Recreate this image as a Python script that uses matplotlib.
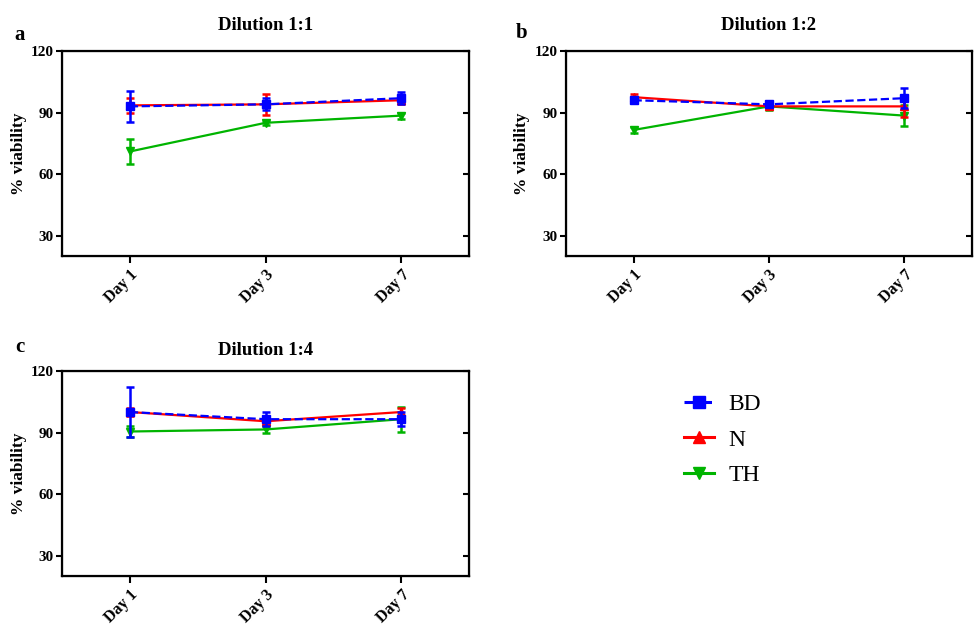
import matplotlib
matplotlib.use("Agg")
import matplotlib.pyplot as plt
from matplotlib.lines import Line2D

plt.rcParams['font.family'] = ['Liberation Serif', 'DejaVu Serif']

days = ["Day 1", "Day 3", "Day 7"]
series = ["BD", "N", "TH"]

# mean and error per dilution panel
bd_11 = [93, 94, 97]
bd_11_err = [7.5, 3, 3]
n_11 = [93.5, 94, 96]
n_11_err = [3.5, 5, 2]
th_11 = [71, 85, 88.5]
th_11_err = [6, 1, 1.5]

bd_12 = [96, 94, 97]
bd_12_err = [1.5, 1.5, 5]
n_12 = [97.5, 93, 93]
n_12_err = [1.5, 1.5, 5]
th_12 = [81.5, 93, 88.5]
th_12_err = [1.5, 2, 5]

bd_14 = [100, 96.5, 96.5]
bd_14_err = [12, 3.5, 3.5]
n_14 = [100, 95.5, 100]
n_14_err = [2, 2, 2]
th_14 = [90.5, 91.5, 96.5]
th_14_err = [2.5, 1.5, 6]

titles = ["Dilution 1:1", "Dilution 1:2", "Dilution 1:4"]
letters = ["a", "b", "c"]

panels = [
    [(bd_11, bd_11_err), (n_11, n_11_err), (th_11, th_11_err)],
    [(bd_12, bd_12_err), (n_12, n_12_err), (th_12, th_12_err)],
    [(bd_14, bd_14_err), (n_14, n_14_err), (th_14, th_14_err)],
]

colores = ["#0000ff", "#ff0000", "#00b400"]
marcadores = ["s", "^", "v"]
estilos = ["--", "-", "-"]
orden = [3, 2, 1]

W, H = 974, 624
fig = plt.figure(figsize=(W / 100, H / 100), dpi=100)
posiciones = [
    [0.0637, 0.5897, 0.418, 0.3285],
    [0.581, 0.5897, 0.417, 0.3285],
    [0.0637, 0.0769, 0.418, 0.3285],
]
pad_titulo = [15, 15, 11.5]
letra_xy = [(20, 35), (522, 33), (20, 347)]

x = list(range(len(days)))
for p in range(3):
    ax = fig.add_axes(posiciones[p])
    for s in range(3):
        vals, errs = panels[p][s]
        ax.errorbar(x, vals, yerr=errs, color=colores[s], marker=marcadores[s],
                    markersize=6, linestyle=estilos[s], linewidth=1.6,
                    elinewidth=1.8, capsize=3, capthick=1.8, zorder=orden[s] + 2)
    ax.set_xlim(-0.5, 2.5)
    ax.set_ylim(20, 120)
    ax.set_yticks([30, 60, 90, 120])
    ax.set_xticks(x)
    ax.set_xticklabels(days, rotation=45, ha="right", rotation_mode="anchor",
                       fontweight="bold", fontsize=11.5)
    for lab in ax.get_yticklabels():
        lab.set_fontweight("bold")
        lab.set_fontsize(11)
    ax.set_ylabel("% viability", fontweight="bold", fontsize=12.5, labelpad=3)
    ax.set_title(titles[p], fontweight="bold", fontsize=13.5, pad=pad_titulo[p])
    ax.tick_params(axis="y", direction="out", width=1.5, length=4, pad=2)
    ax.tick_params(axis="x", direction="out", width=1.5, length=5, pad=3)
    for sp in ax.spines.values():
        sp.set_linewidth(1.6)
    der = ax.twinx()
    der.set_ylim(20, 120)
    der.set_yticks([30, 60, 90, 120])
    der.set_yticklabels([])
    der.tick_params(axis="y", direction="in", width=1.5, length=4)
    lx, ly = letra_xy[p]
    fig.text(lx / W, 1 - ly / H, letters[p], fontweight="bold",
             fontsize=15, ha="center", va="center")

handles = [Line2D([0], [0], color=colores[s], marker=marcadores[s], markersize=8,
                  linestyle=estilos[s], linewidth=2.2) for s in range(3)]
fig.legend(handles=handles, labels=series, loc="center left", bbox_to_anchor=(0.68, 0.295),
           frameon=False, fontsize=17, handlelength=1.3, handletextpad=0.6,
           labelspacing=0.6)

fig.savefig("out.png", dpi=100)
